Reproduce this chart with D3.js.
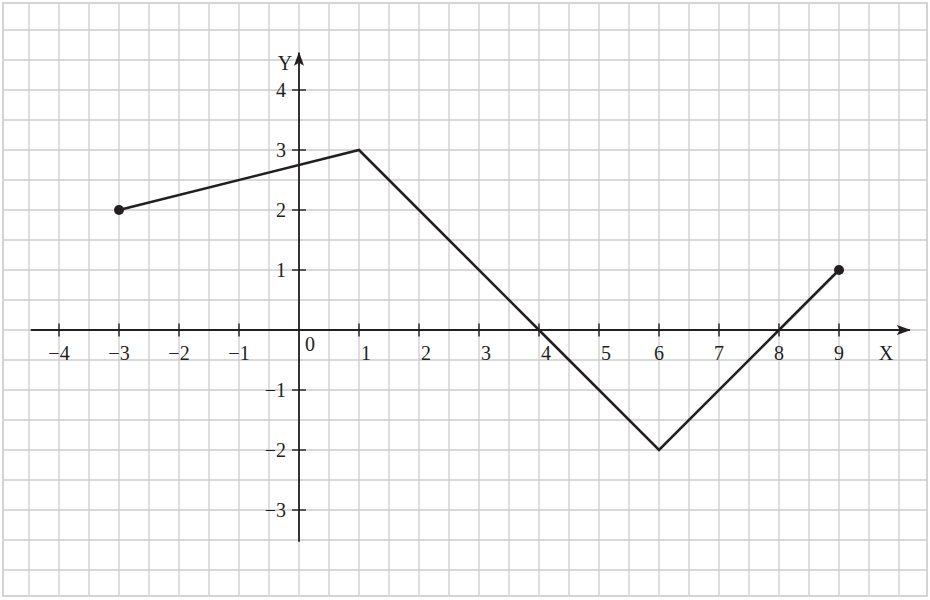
<!DOCTYPE html>
<html>
<head>
<meta charset="utf-8">
<script src="https://cdn.jsdelivr.net/npm/d3@7"></script>
<style>
  body { margin: 0; background: #fff; }
  svg { display: block; }
  text { font-family: "Liberation Serif", "DejaVu Serif", serif; fill: #231f20; }
</style>
</head>
<body>
<div id="chart"></div>
<script>
// polyline vertices (x, y)
var pointX = [-3, 1, 4, 6, 8, 9];
var pointY = [2, 3, 0, -2, 0, 1];
// closed end points
var dotX = [-3, 9];
var dotY = [2, 1];
// tick labels
var xTicks = [-4, -3, -2, -1, 1, 2, 3, 4, 5, 6, 7, 8, 9];
var yTicks = [-3, -2, -1, 1, 2, 3, 4];
// grid every half unit
var gridX = d3.range(-4.5, 10.01, 0.5);
var gridY = d3.range(-4, 5.01, 0.5);
// axis extents
var xAxisExtent = [-4.47, 10.18];
var yAxisExtent = [-3.53, 4.62];

var width = 930, height = 600;
var ink = "#231f20";
var fontSize = 20;

var svg = d3.select("#chart").append("svg")
    .attr("width", width)
    .attr("height", height);

var x = d3.scaleLinear().domain([-5, 10]).range([-1, 899]);
var y = d3.scaleLinear().domain([-4.5, 5.5]).range([600, 0]);

// grid
svg.append("g").selectAll("line")
  .data(gridX)
  .enter().append("line")
    .attr("x1", function(d){ return x(d); })
    .attr("x2", function(d){ return x(d); })
    .attr("y1", 3).attr("y2", 596)
    .attr("stroke", "#cdcdcd").attr("stroke-width", 1.3);

svg.append("g").selectAll("line")
  .data(gridY)
  .enter().append("line")
    .attr("y1", function(d){ return y(d); })
    .attr("y2", function(d){ return y(d); })
    .attr("x1", 3).attr("x2", 927)
    .attr("stroke", "#cdcdcd").attr("stroke-width", 1.3);

svg.append("rect")
  .attr("x", 3).attr("y", 3)
  .attr("width", 924).attr("height", 593)
  .attr("fill", "none")
  .attr("stroke", "#d4d4d4").attr("stroke-width", 2);

// arrow heads
var defs = svg.append("defs");
defs.append("marker")
  .attr("id", "arrow")
  .attr("viewBox", "0 0 14 10")
  .attr("refX", 13).attr("refY", 5)
  .attr("markerWidth", 14).attr("markerHeight", 10)
  .attr("markerUnits", "userSpaceOnUse")
  .attr("orient", "auto")
  .append("path")
    .attr("d", "M0,0 L14,5 L0,10 L3,5 Z")
    .attr("fill", ink);

// axes
svg.append("line")
  .attr("x1", x(xAxisExtent[0])).attr("x2", x(xAxisExtent[1]))
  .attr("y1", y(0)).attr("y2", y(0))
  .attr("stroke", ink).attr("stroke-width", 1.8)
  .attr("marker-end", "url(#arrow)");

svg.append("line")
  .attr("x1", x(0)).attr("x2", x(0))
  .attr("y1", y(yAxisExtent[0])).attr("y2", y(yAxisExtent[1]))
  .attr("stroke", ink).attr("stroke-width", 1.8)
  .attr("marker-end", "url(#arrow)");

// x ticks + labels
var xt = svg.append("g").selectAll("g")
  .data(xTicks)
  .enter().append("g")
    .attr("transform", function(d){ return "translate(" + x(d) + "," + y(0) + ")"; });

xt.append("line")
  .attr("y1", -6.5).attr("y2", 6.5)
  .attr("stroke", ink).attr("stroke-width", 1.4);

// labels 1..5 sit a little right of their tick in the original
xt.append("text")
  .attr("y", 30)
  .attr("x", function(d){ return (d >= 1 && d <= 5) ? 7 : 0; })
  .attr("text-anchor", "middle")
  .attr("font-size", fontSize)
  .text(function(d){ return d < 0 ? "\u2212" + Math.abs(d) : d; });

// y ticks + labels
var yt = svg.append("g").selectAll("g")
  .data(yTicks)
  .enter().append("g")
    .attr("transform", function(d){ return "translate(" + x(0) + "," + y(d) + ")"; });

yt.append("line")
  .attr("x1", -7).attr("x2", 7)
  .attr("stroke", ink).attr("stroke-width", 1.4);

yt.append("text")
  .attr("x", -13)
  .attr("y", 7)
  .attr("text-anchor", "end")
  .attr("font-size", fontSize)
  .text(function(d){ return d < 0 ? "\u2212" + Math.abs(d) : d; });

// origin + axis names
svg.append("text")
  .attr("x", x(0) + 11).attr("y", y(0) + 21)
  .attr("text-anchor", "middle").attr("font-size", fontSize)
  .text("0");

svg.append("text")
  .attr("x", 886).attr("y", y(0) + 30)
  .attr("text-anchor", "middle").attr("font-size", fontSize)
  .text("X");

svg.append("text")
  .attr("x", x(0) - 14).attr("y", 70)
  .attr("text-anchor", "middle").attr("font-size", fontSize)
  .text("Y");

// graph
var pts = pointX.map(function(d, i){ return [d, pointY[i]]; });
var line = d3.line()
  .x(function(d){ return x(d[0]); })
  .y(function(d){ return y(d[1]); });

svg.append("path")
  .datum(pts)
  .attr("d", line)
  .attr("fill", "none")
  .attr("stroke", ink)
  .attr("stroke-width", 2.6)
  .attr("stroke-linejoin", "miter");

svg.append("g").selectAll("circle")
  .data(dotX)
  .enter().append("circle")
    .attr("cx", function(d){ return x(d); })
    .attr("cy", function(d, i){ return y(dotY[i]); })
    .attr("r", 5)
    .attr("fill", ink);
</script>
</body>
</html>
